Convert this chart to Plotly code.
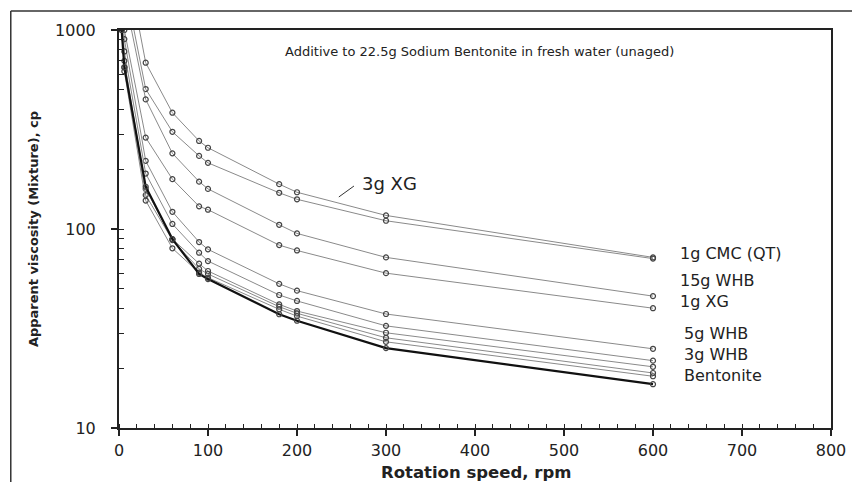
import plotly.graph_objects as go

rpm = [3, 6, 30, 60, 90, 100, 180, 200, 300, 600]

series_names = ["3g XG", "1g CMC (QT)", "15g WHB", "1g XG", "5g WHB",
                "3g WHB", "mix A", "mix B", "mix C", "Bentonite"]

v_3gXG    = [4000, 2500, 685, 384, 277, 256, 168, 153, 117, 72]
v_1gCMC   = [3000, 1750, 505, 308, 233, 215, 152, 141, 110, 71]
v_15gWHB  = [2600, 1500, 448, 240, 173, 159, 105, 95, 72, 46]
v_1gXG    = [1700, 1000, 288, 178, 130, 125, 83, 78, 60, 40]
v_5gWHB   = [1400, 900, 220, 122, 86, 79, 53, 49, 37.4, 25]
v_3gWHB   = [1200, 780, 190, 106, 76, 69, 46.6, 43.5, 32.6, 21.8]
v_mixA    = [1100, 700, 159, 89, 67, 61.5, 41.8, 38.7, 30.1, 20.3]
v_mixB    = [1050, 650, 148, 88, 63, 59.4, 40.7, 37.7, 28.4, 18.9]
v_mixC    = [1000, 620, 139, 80, 60.3, 56.9, 39.5, 36.5, 27.1, 18.2]
v_bent    = [1000, 650, 163, 89, 59.4, 56, 37.3, 34.6, 25.2, 16.6]

series = [v_3gXG, v_1gCMC, v_15gWHB, v_1gXG, v_5gWHB, v_3gWHB,
          v_mixA, v_mixB, v_mixC, v_bent]

x_ticks = [0, 100, 200, 300, 400, 500, 600, 700, 800]
y_ticks = [10, 100, 1000]
y_ticktext = ["10", "100", "1000"]

title_text = "Additive to 22.5g Sodium Bentonite in fresh water (unaged)"
x_title = "Rotation speed, rpm"
y_title = "Apparent viscosity (Mixture), cp"

fig = go.Figure()
for name, vals in zip(series_names, series):
    bold = name == "Bentonite"
    fig.add_trace(go.Scatter(
        x=rpm, y=vals, mode="lines+markers", name=name,
        line=dict(color="#111111" if bold else "#8a8a8a", width=2.2 if bold else 1),
        marker=dict(symbol="circle-open", size=5,
                    color="#444444", line=dict(width=1.2, color="#444444")),
        showlegend=False, cliponaxis=True,
    ))

font_main = "DejaVu Sans"

fig.update_layout(
    width=852, height=482,
    margin=dict(l=119, r=21, t=30, b=54),
    paper_bgcolor="white", plot_bgcolor="white",
    font=dict(family=font_main, color="#222222"),
    xaxis=dict(
        range=[0, 800], tickvals=x_ticks, ticks="outside", ticklen=6, tickwidth=2,
        tickcolor="#222", showline=True, linewidth=2, linecolor="#222", mirror=True,
        showgrid=False, zeroline=False, tickfont=dict(size=16, family=font_main),
        ticklabelstandoff=1, automargin=False,
        minor=dict(dtick=20, ticks="inside", ticklen=4, tickwidth=1.2, tickcolor="#222", showgrid=False),
    ),
    yaxis=dict(
        type="log", range=[1, 3], tickvals=y_ticks, ticktext=y_ticktext,
        ticks="outside", ticklen=6, tickwidth=2, tickcolor="#222",
        showline=True, linewidth=2, linecolor="#222", mirror=True,
        showgrid=False, zeroline=False, tickfont=dict(size=16, family=font_main),
        ticklabelstandoff=12, automargin=False,
        minor=dict(dtick="D1", ticks="inside", ticklen=5, tickwidth=1.2, tickcolor="#222", showgrid=False),
        title=dict(text="<b>" + y_title + "</b>", font=dict(size=13, family=font_main), standoff=14),
    ),
)

lab_font = dict(size=16, family=font_main, color="#222")
annotations = [
    dict(x=184, y=0.945, xref="x", yref="paper", text=title_text, showarrow=False,
         xanchor="left", yanchor="middle", font=dict(size=13, family=font_main, color="#222")),
    dict(x=400.6, y=-0.1106, xref="x", yref="paper", text="<b>" + x_title + "</b>", showarrow=False,
         xanchor="center", yanchor="middle", font=dict(size=16.5, family=font_main, color="#222")),
    dict(x=271, y=2.231, text="3g XG", showarrow=False, xanchor="left", yanchor="middle",
         font=dict(size=18, family=font_main, color="#222")),
    dict(x=628, y=1.879, text="1g CMC (QT)", showarrow=False, xanchor="left", yanchor="middle",
         font=lab_font),
    dict(x=628, y=1.686, text="15g WHB<br>1g XG", showarrow=False, xanchor="left", yanchor="middle",
         align="left", font=lab_font),
    dict(x=633, y=1.367, text="5g WHB<br>3g WHB<br>Bentonite", showarrow=False, xanchor="left",
         yanchor="middle", align="left", font=lab_font),
]
fig.update_layout(annotations=annotations)

shapes = [
    # leader line for 3g XG
    dict(type="line", xref="x", yref="y", x0=247, y0=10**2.161, x1=264, y1=10**2.216,
         line=dict(color="#333", width=1)),
    # outer frame lines (top and left)
    dict(type="line", xref="paper", yref="paper", x0=-0.152, y0=1.0477, x1=1.03, y1=1.0477,
         line=dict(color="#333", width=1.5)),
    dict(type="line", xref="paper", yref="paper", x0=-0.152, y0=1.0477, x1=-0.152, y1=-0.14,
         line=dict(color="#333", width=1.5)),
]
fig.update_layout(shapes=shapes)

fig.write_html("out.html", config={"displayModeBar": False},
               post_script="document.body.style.margin='0';document.body.style.overflow='hidden';")
